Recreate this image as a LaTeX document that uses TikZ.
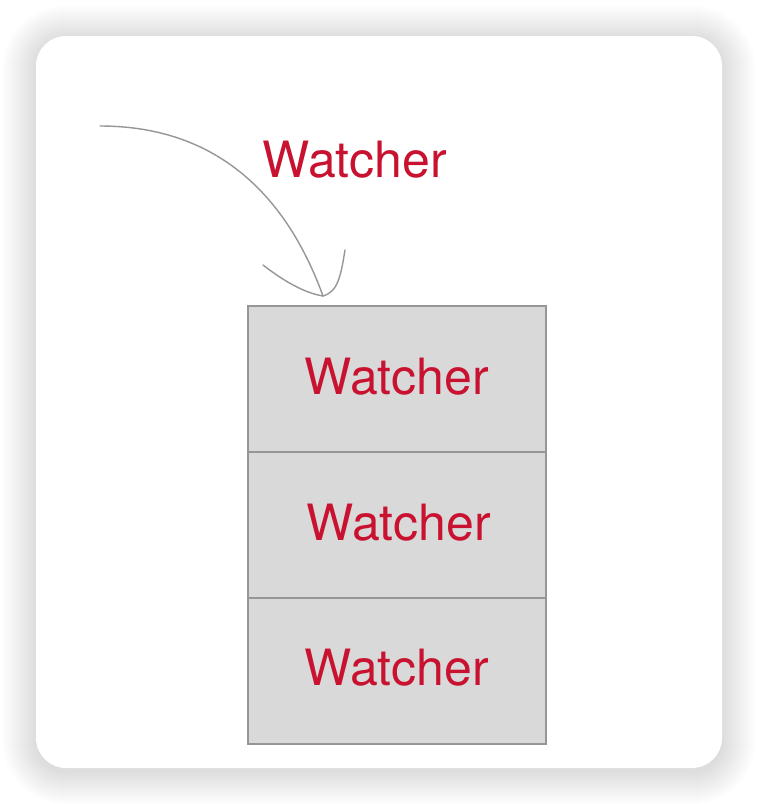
\documentclass[tikz,border=0pt]{standalone}
\usepackage{fontspec}
\setmainfont{TeX Gyre Heros}
\definecolor{wred}{RGB}{200,18,48}
\definecolor{boxfill}{RGB}{217,217,217}
\definecolor{boxline}{RGB}{150,150,150}
\definecolor{arrowgray}{RGB}{150,150,150}
\begin{document}
\begin{tikzpicture}[x=1pt,y=-1pt,
  stackbox/.style={draw=boxline,line width=1.6pt,fill=boxfill,minimum width=298pt,minimum height=146pt,inner sep=0pt,anchor=north west},
  lbl/.style={text=wred,font=\fontsize{50}{50}\selectfont,inner sep=0pt},
  conn/.style={draw=arrowgray,line width=1.4pt,line cap=round}]
\useasboundingbox (0,0) rectangle (758,804);
\fill[white] (0,0) rectangle (758,804);
% soft shadow
\foreach \i in {1,...,34}{
  \fill[black,opacity=0.0032,rounded corners={30pt+\i pt}] (36-\i,39-\i) rectangle (722+\i,771+\i);
}
\fill[white,rounded corners=30pt] (36,36) rectangle (722,768);
% boxes
\node[stackbox] (b1) at (247,305) {};
\node[stackbox] (b2) at (247,451) {};
\node[stackbox] (b3) at (247,597) {};
\node[lbl] (t1) at (397,377) {Watcher};
\node[lbl] (t2) at (399,523) {Watcher};
\node[lbl] (t3) at (397,668) {Watcher};
\node[lbl] (t0) at (355,160) {Watcher};
% arrow
\coordinate (start) at (100,126);
\coordinate (tip) at (323,296);
\coordinate (barbL) at (263,265);
\coordinate (barbR) at (345,250);
\draw[conn] (start) .. controls (225,126) and (290,205) .. (tip);
\draw[conn] (barbL) .. controls (285,282) and (305,293) .. (tip);
\draw[conn] (barbR) .. controls (341,275) and (338,292) .. (tip);
\end{tikzpicture}
\end{document}
